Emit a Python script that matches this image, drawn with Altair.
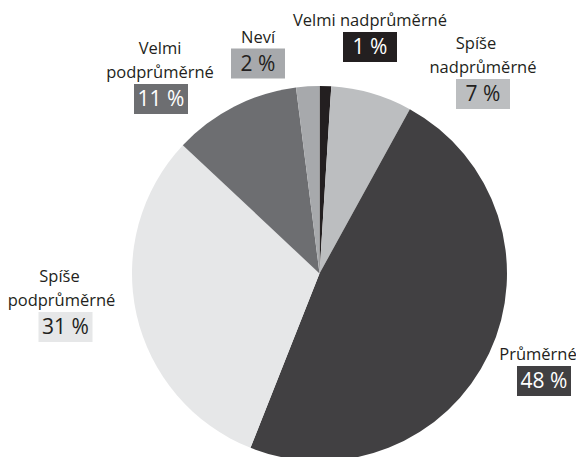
import altair as alt
import pandas as pd

# ---- data ----
categories = ["Velmi nadprůměrné", "Spíše nadprůměrné", "Průměrné",
              "Spíše podprůměrné", "Velmi podprůměrné", "Neví"]
values = [1, 7, 48, 31, 11, 2]
label_lines = [["Velmi nadprůměrné"], ["Spíše", "nadprůměrné"], ["Průměrné"],
               ["Spíše", "podprůměrné"], ["Velmi", "podprůměrné"], ["Neví"]]

# ---- styles ----
colors = ["#231f20", "#bcbec0", "#414042", "#e6e7e8", "#6d6e71", "#a7a9ac"]
pct_text_colors = ["#ffffff", "#231f20", "#ffffff", "#231f20", "#ffffff", "#231f20"]
FONT = "Open Sans"
NAME_SIZE = 16.5
PCT_SIZE = 21
TEXT_COLOR = "#231f20"

# ---- layout (plot-area pixels) ----
W, H = 568, 449
CX, CY, R = 311.5, 265.5, 187.5
box_centers = [(362, 39), (475, 86), (536, 373), (57.5, 319), (153, 91), (250, 55.5)]
line_dx = [[0], [-7, 0], [-6], [-6, -4], [-1, -1], [0]]
BOX_W, BOX_H = 54, 30
LINE_H = 24

df = pd.DataFrame({"cat": categories, "value": values, "order": list(range(len(values)))})

pie = alt.Chart(df).mark_arc(outerRadius=R).encode(
    theta=alt.Theta("value:Q", stack=True),
    color=alt.Color("cat:N", scale=alt.Scale(domain=categories, range=colors), legend=None),
    order=alt.Order("order:Q"),
    x=alt.value(CX),
    y=alt.value(CY),
)

box_rows = []
name_rows = []
for cat, v, lines, dxs, (bx, by), fill, tc in zip(categories, values, label_lines, line_dx,
                                                   box_centers, colors, pct_text_colors):
    box_rows.append({"x1": bx - BOX_W / 2, "x2": bx + BOX_W / 2,
                     "y1": by - BOX_H / 2, "y2": by + BOX_H / 2,
                     "cx": bx, "ty": by + 7, "fill": fill, "tcol": tc,
                     "label": f"{v} %"})
    k = len(lines)
    for i, (ln, dx) in enumerate(zip(lines, dxs)):
        name_rows.append({"x": bx + dx, "y": by - 21 - LINE_H * (k - 1 - i), "text": ln})

boxes_df = pd.DataFrame(box_rows)
names_df = pd.DataFrame(name_rows)

boxes = alt.Chart(boxes_df).mark_rect().encode(
    x=alt.X("x1:Q", scale=None), x2="x2:Q",
    y=alt.Y("y1:Q", scale=None), y2="y2:Q",
    fill=alt.Fill("fill:N", scale=None),
)

pct = alt.Chart(boxes_df).mark_text(font=FONT, fontSize=PCT_SIZE, baseline="alphabetic",
                                    align="center").encode(
    x=alt.X("cx:Q", scale=None),
    y=alt.Y("ty:Q", scale=None),
    text="label:N",
    color=alt.Color("tcol:N", scale=None),
)

names = alt.Chart(names_df).mark_text(font=FONT, fontSize=NAME_SIZE, baseline="alphabetic",
                                      align="center", color=TEXT_COLOR).encode(
    x=alt.X("x:Q", scale=None),
    y=alt.Y("y:Q", scale=None),
    text="text:N",
)

chart = alt.layer(pie, boxes, pct, names).properties(
    width=W, height=H, autosize="none", padding=0
).configure_view(stroke=None)

chart.save("out.html", embed_options={"renderer": "svg", "actions": False})
